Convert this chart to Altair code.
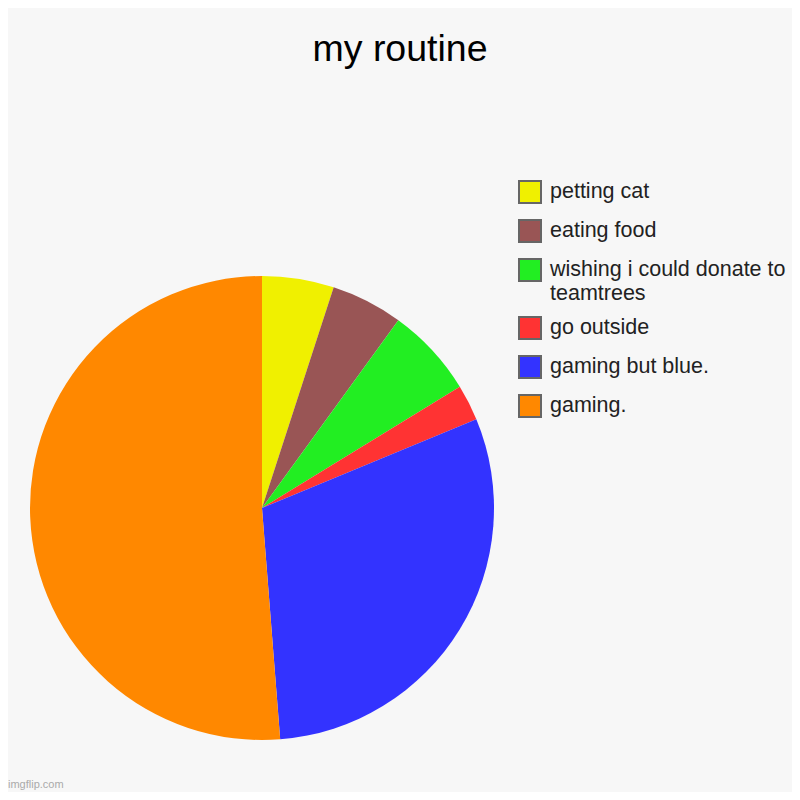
import altair as alt
import pandas as pd

categories = ["petting cat", "eating food", "wishing i could donate to teamtrees",
              "go outside", "gaming but blue.", "gaming."]
values = [4, 4, 5, 2, 24, 41]
colors = ["#f0f000", "#995555", "#22ee22", "#ff3333", "#3333ff", "#ff8800"]

df = pd.DataFrame({"category": categories, "value": values, "order": list(range(len(categories)))})

label_expr = ("datum.label == 'wishing i could donate to teamtrees' ? "
              "['wishing i could donate to', 'teamtrees'] : datum.label")

pie = alt.Chart(df).mark_arc(radius=232).encode(
    theta=alt.Theta("value:Q", stack=True),
    order=alt.Order("order:Q"),
    color=alt.Color(
        "category:N",
        scale=alt.Scale(domain=categories, range=colors),
        legend=alt.Legend(
            title=None,
            orient="none",
            legendX=510,
            legendY=102,
            symbolType="square",
            symbolSize=484,
            symbolStrokeColor="#666666",
            symbolStrokeWidth=2,
            symbolOpacity=1,
            labelFont="Liberation Sans",
            labelFontSize=21.5,
            labelColor="#222222",
            labelOffset=8,
            labelLimit=400,
            labelExpr=label_expr,
            rowPadding=9,
        ),
    ),
    x=alt.value(254),
    y=alt.value(430),
)

mark_df = pd.DataFrame({"t": ["imgflip.com"]})
watermark = alt.Chart(mark_df).mark_text(
    font="Liberation Sans", fontSize=11, color="#aaaaaa", align="left", baseline="alphabetic"
).encode(text="t:N", x=alt.value(0), y=alt.value(710))

chart = alt.layer(pie, watermark).properties(
    width=784,
    height=714,
    padding={"top": 70, "left": 0, "right": 0, "bottom": 0},
    autosize=alt.AutoSizeParams(type="none"),
    title=alt.TitleParams(
        "my routine", font="Liberation Sans", fontSize=37.5, fontWeight="normal",
        color="#000000", anchor="middle", baseline="alphabetic", offset=18, dy=38,
    ),
).configure(background="#f7f7f7").configure_view(stroke=None)

chart.save("out.html", embed_options={"renderer": "svg", "actions": False})
